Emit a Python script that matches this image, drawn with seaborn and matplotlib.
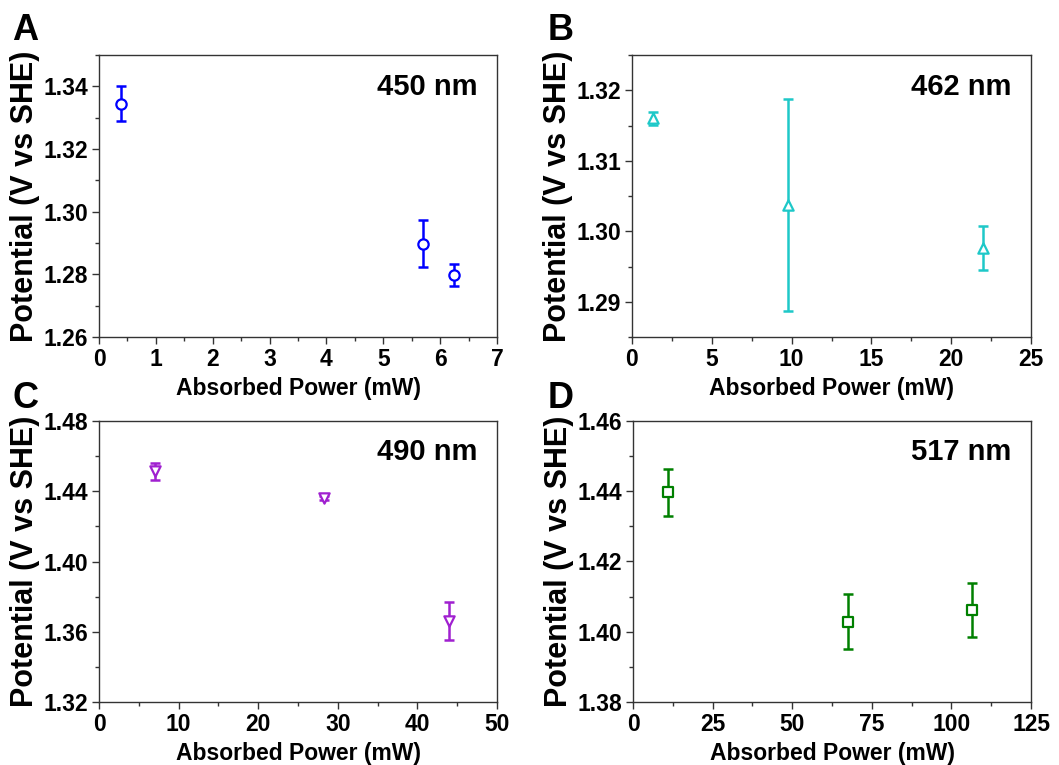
import matplotlib
matplotlib.use("Agg")
import matplotlib.pyplot as plt
from matplotlib.ticker import MultipleLocator, FormatStrFormatter
import seaborn as sns
import pandas as pd

# ---- data ----
power_450 = [0.38, 5.70, 6.25]
pot_450 = [1.3345, 1.2898, 1.2798]
err_450 = [0.0057, 0.0075, 0.0036]

power_462 = [1.3, 9.8, 22.0]
pot_462 = [1.3160, 1.3037, 1.2976]
err_462 = [0.0009, 0.0150, 0.0031]

power_490 = [7.0, 28.3, 44.0]
pot_490 = [1.4514, 1.4362, 1.3661]
err_490 = [0.0048, 0.0012, 0.0107]

power_517 = [11.0, 67.5, 106.5]
pot_517 = [1.4397, 1.4029, 1.4062]
err_517 = [0.0067, 0.0078, 0.0076]

panel_letters = ["A", "B", "C", "D"]
wavelength_labels = ["450 nm", "462 nm", "490 nm", "517 nm"]
xlabel = "Absorbed Power (mW)"
ylabel = "Potential (V vs SHE)"

sns.set_theme(style="ticks")
plt.rcParams['font.family'] = ['Liberation Sans', 'DejaVu Sans']
plt.rcParams['font.weight'] = 'bold'
plt.rcParams['text.color'] = 'black'
plt.rcParams['axes.labelcolor'] = 'black'
plt.rcParams['xtick.labelcolor'] = 'black'
plt.rcParams['ytick.labelcolor'] = 'black'

fig = plt.figure(figsize=(10.59, 7.65), dpi=100)

panels = [
    dict(x=power_450, y=pot_450, e=err_450, color="#0000FF", marker="o",
         xlim=(0, 7), xmaj=1, xmin=0.5, ylim=(1.26, 1.35), ymaj=0.02, ymin=0.01,
         rect=[99, 55, 497, 337]),
    dict(x=power_462, y=pot_462, e=err_462, color="#1EC8C8", marker="^",
         xlim=(0, 25), xmaj=5, xmin=2.5, ylim=(1.285, 1.325), ymaj=0.01, ymin=0.005,
         rect=[632, 55, 1031, 337]),
    dict(x=power_490, y=pot_490, e=err_490, color="#A020D0", marker="v",
         xlim=(0, 50), xmaj=10, xmin=5, ylim=(1.32, 1.48), ymaj=0.04, ymin=0.02,
         rect=[99, 421, 497, 702]),
    dict(x=power_517, y=pot_517, e=err_517, color="#008000", marker="s",
         xlim=(0, 125), xmaj=25, xmin=12.5, ylim=(1.38, 1.46), ymaj=0.02, ymin=0.01,
         rect=[633, 421, 1031, 702]),
]

W, H = 1059, 765
letter_pos = [(12, 40), (548, 40), (12, 408), (548, 408)]
label_baseline = [95, 95, 460, 460]

for i, p in enumerate(panels):
    l, t, r, b = p["rect"]
    ax = fig.add_axes([l / W, 1 - b / H, (r - l) / W, (b - t) / H])
    df = pd.DataFrame({"power": p["x"], "pot": p["y"], "err": p["e"]})
    ax.errorbar(df["power"], df["pot"], yerr=df["err"], fmt="none",
                ecolor=p["color"], elinewidth=1.8, capsize=3.5, capthick=1.8, zorder=2)
    ms = 55 if p["marker"] != "s" else 45
    sns.scatterplot(data=df, x="power", y="pot", ax=ax, marker=p["marker"],
                    s=ms, facecolor="white", edgecolor=p["color"], linewidth=1.6,
                    zorder=3, legend=False)
    ax.set_xlim(*p["xlim"])
    ax.set_ylim(*p["ylim"])
    ax.xaxis.set_major_locator(MultipleLocator(p["xmaj"]))
    ax.xaxis.set_minor_locator(MultipleLocator(p["xmin"]))
    ax.yaxis.set_major_locator(MultipleLocator(p["ymaj"]))
    ax.yaxis.set_minor_locator(MultipleLocator(p["ymin"]))
    ax.yaxis.set_major_formatter(FormatStrFormatter("%.2f"))
    ax.tick_params(axis="both", which="major", direction="out", length=5, width=1,
                   labelsize=16.5, color="#333333", labelcolor="black", pad=3)
    ax.tick_params(axis="both", which="minor", direction="out", length=3, width=1,
                   color="#333333")
    for lab in ax.get_xticklabels() + ax.get_yticklabels():
        lab.set_fontweight("bold")
    for sp in ax.spines.values():
        sp.set_visible(True)
        sp.set_color("#333333")
        sp.set_linewidth(1.0)
    ax.set_xlabel(xlabel, fontsize=16.5, fontweight="bold", labelpad=4, color="black")
    ax.set_ylabel(ylabel, fontsize=22, fontweight="bold", labelpad=2, color="black")
    ax.text(0.95, (b - label_baseline[i]) / (b - t), wavelength_labels[i],
            transform=ax.transAxes, ha="right", va="baseline",
            fontsize=21, fontweight="bold", color="black")
    lx, ly = letter_pos[i]
    fig.text(lx / W, 1 - ly / H, panel_letters[i], fontsize=26, fontweight="bold",
             ha="left", va="baseline", color="black")

fig.savefig("out.png", dpi=100, facecolor="white")
